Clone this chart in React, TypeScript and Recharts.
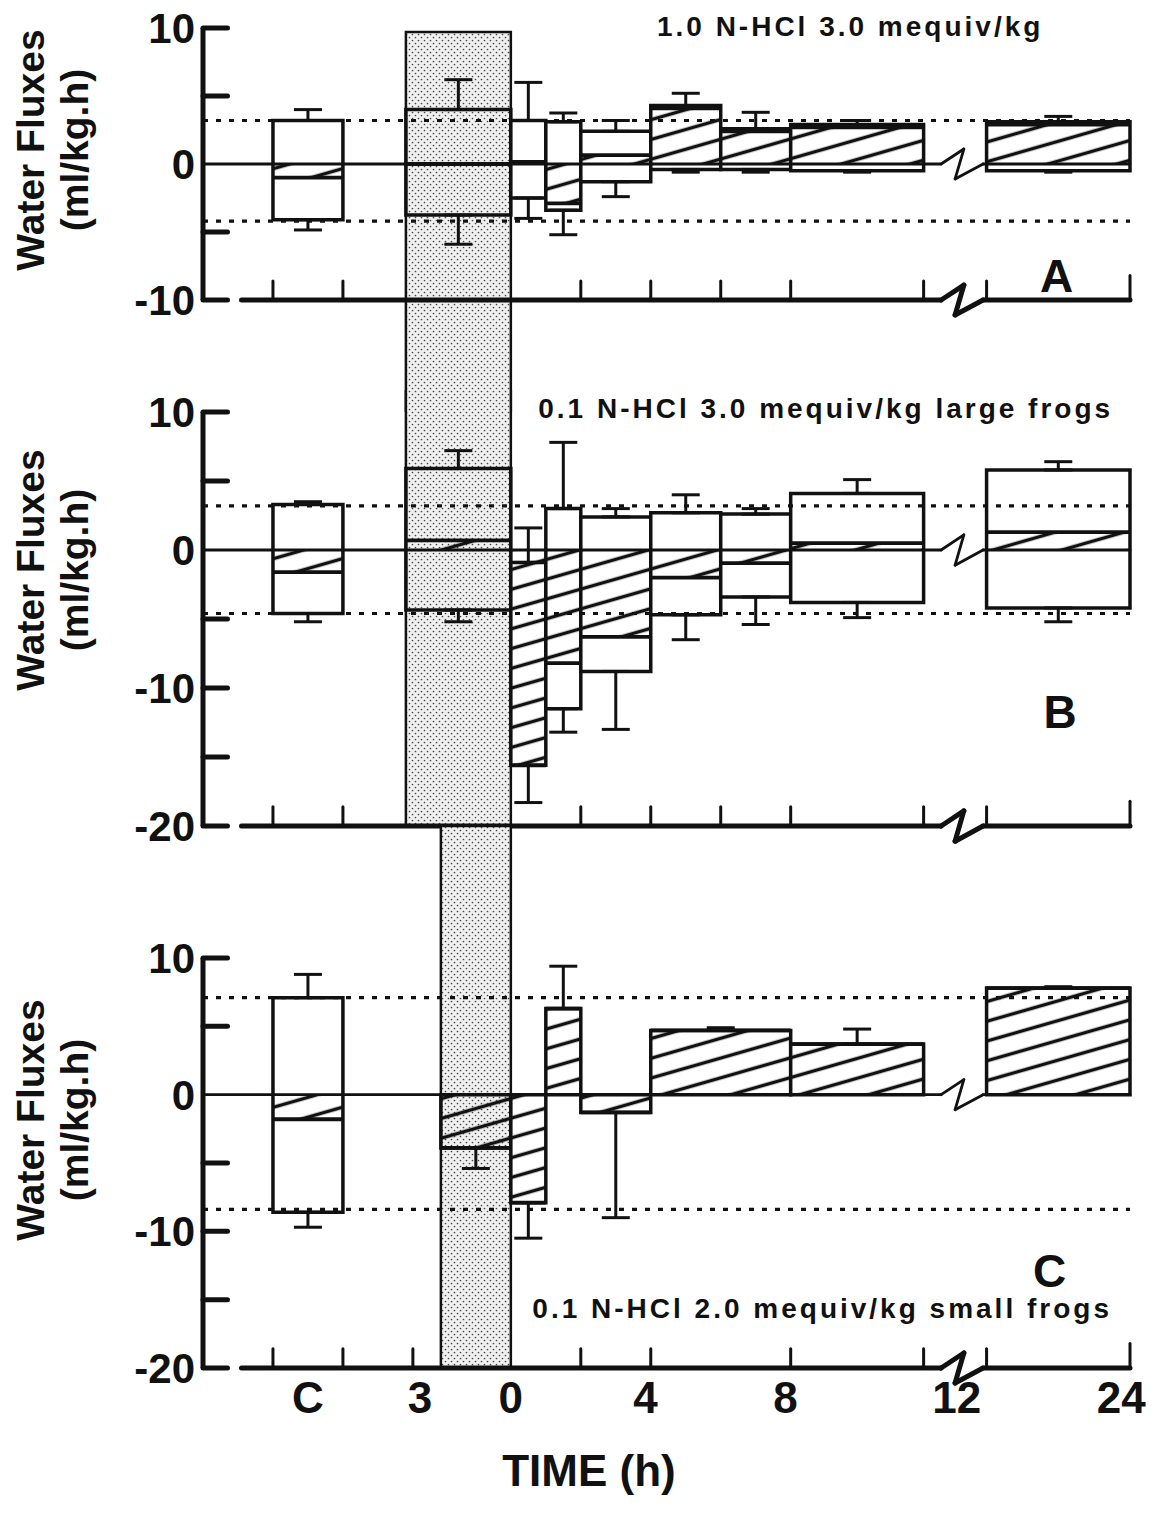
import React from 'react';
import {
  ComposedChart, XAxis, YAxis, Scatter, ErrorBar,
  ReferenceArea, ReferenceLine, ReferenceDot,
} from 'recharts';

const FONT = '"Liberation Sans", Arial, Helvetica, sans-serif';
const INK = '#111';

// x = hours after the end of the HCl infusion; the 24 h period is drawn after the axis break
const periodStartAB = [-6.8, -3, 0, 1, 2, 4, 6, 8, 13.6];
const periodEndAB = [-4.8, 0, 1, 2, 4, 6, 8, 11.8, 17.7];
const periodStartC = [-6.8, -2, 0, 1, 2, 4, 8, 13.6];
const periodEndC = [-4.8, 0, 1, 2, 4, 8, 11.8, 17.7];

// A: 1.0 N-HCl 3.0 mequiv/kg
const influxA = [3.2, 4.0, 3.2, 3.1, 2.4, 4.3, 2.6, 2.9, 3.1];
const effluxA = [-4.1, -3.75, -2.5, -3.4, -1.3, -0.4, -0.4, -0.5, -0.5];
const netA = [-1.0, 0, 0.15, -2.9, 0.65, 4.1, 2.4, 2.7, 2.9];
const errUpA = [4.0, 6.2, 6.0, 3.75, 3.2, 5.2, 3.8, 3.2, 3.5];
const errDownA = [-4.85, -5.9, -4.0, -5.2, -2.4, -0.6, -0.6, -0.6, -0.6];
const controlA = [3.2, -4.2];

// B: 0.1 N-HCl 3.0 mequiv/kg large frogs
const influxB = [3.3, 5.9, -0.9, 3.0, 2.4, 2.7, 2.6, 4.1, 5.8];
const effluxB = [-4.6, -4.35, -15.6, -11.5, -8.8, -4.7, -3.4, -3.8, -4.2];
const netB = [-1.6, 0.7, -15.6, -8.2, -6.3, -2.0, -0.95, 0.5, 1.3];
const errUpB = [3.5, 7.2, 1.6, 7.8, 3.0, 4.0, 3.0, 5.1, 6.4];
const errDownB = [-5.2, -5.2, -18.3, -13.2, -13.0, -6.5, -5.4, -4.9, -5.2];
const controlB = [3.2, -4.6];

// C: 0.1 N-HCl 2.0 mequiv/kg small frogs
const influxC = [7.1, 0, 0, 6.3, 0, 4.7, 3.7, 7.8];
const effluxC = [-8.6, -3.9, -7.9, 0, -1.3, 0, 0, 0];
const netC = [-1.8, -3.9, -7.9, 6.3, -1.3, 4.7, 3.7, 7.8];
const errUpC = [8.8, null, null, 9.4, null, 4.9, 4.8, 7.9];
const errDownC = [-9.7, -5.4, -10.5, null, -9.0, null, null, null];
const controlC = [7.1, -8.4];

const xTicksAB = [-6.8, -4.8, 2, 4, 6, 8, 11.8, 13.6, 17.7];
const xTicksC = [-6.8, -4.8, -2.8, 2, 4, 8, 11.8, 13.6, 17.7];
const timeLabels = ['C', '3', '0', '4', '8', '12', '24'];
const timeLabelPos = [-5.8, -2.6, 0, 3.85, 7.85, 12.75, 17.45];

const yLabelsA = [10, 0, -10];
const yMinorA = [10, 5, -5, -10];
const yLabelsBC = [10, 0, -10, -20];
const yMinorBC = [10, 5, -5, -10, -15, -20];

const X_MIN = -8.8;
const X_MAX = 17.9;
const AXIS_START = -7.7;
const AXIS_END = 17.7;
const BREAK_FROM = 12.3;
const BREAK_TO = 13.5;

type Pt = { x: number; y: number };
type Seg = [Pt, Pt];

const brokenLine = (y: number, x0: number, h: number): Seg[] => [
  [{ x: x0, y }, { x: BREAK_FROM, y }],
  [{ x: BREAK_FROM, y }, { x: 12.95, y: y + h }],
  [{ x: 12.95, y: y + h }, { x: 12.7, y: y - h }],
  [{ x: 12.7, y: y - h }, { x: BREAK_TO, y }],
  [{ x: BREAK_TO, y }, { x: AXIS_END, y }],
];

type PanelProps = {
  id: string;
  top: number;
  height: number;
  mTop: number;
  mBottom: number;
  domain: [number, number];
  start: number[];
  end: number[];
  influx: number[];
  efflux: number[];
  net: number[];
  errUp: (number | null)[];
  errDown: (number | null)[];
  control: number[];
  yLabels: number[];
  yMinor: number[];
  xTicks: number[];
  shade: [number, number, number, number];
  title: string;
  titleAt: [number, number];
  letter: string;
  letterAt: [number, number];
  titleShift: number;
  timeAxis?: boolean;
};

const yTitle = (shift: number) => (props: any) => {
  const vb = props.viewBox || { y: 0, height: 0 };
  const cy = vb.y + vb.height / 2 + shift;
  const st = { fontFamily: FONT, fontWeight: 700, fontSize: 39, fill: INK };
  return (
    <g>
      <text x={30} y={cy} transform={`rotate(-90 30 ${cy})`} textAnchor="middle" dominantBaseline="central" style={st}>
        Water Fluxes
      </text>
      <text x={74} y={cy} transform={`rotate(-90 74 ${cy})`} textAnchor="middle" dominantBaseline="central" style={st}>
        (ml/kg.h)
      </text>
    </g>
  );
};

const timeTitle = (props: any) => {
  const vb = props.viewBox || { y: 0 };
  return (
    <text x={589} y={vb.y + 118} textAnchor="middle"
      style={{ fontFamily: FONT, fontWeight: 700, fontSize: 44, fill: INK }}>
      TIME (h)
    </text>
  );
};

function Panel(p: PanelProps) {
  const yMin = p.domain[0];
  const hatch = `hatch-${p.id}`;
  const stip = `stip-${p.id}`;

  const errPts: { x: number; y: number; e: number[] }[] = [];
  p.start.forEach((s, i) => {
    const x = (s + p.end[i]) / 2;
    const up = p.errUp[i];
    const down = p.errDown[i];
    if (up != null) errPts.push({ x, y: p.influx[i], e: [0, up - p.influx[i]] });
    if (down != null) errPts.push({ x, y: p.efflux[i], e: [p.efflux[i] - down, 0] });
  });

  const segs: { seg: Seg; w: number }[] = [];
  brokenLine(0, X_MIN, 1.1).forEach((seg) => segs.push({ seg, w: 2.8 }));
  brokenLine(yMin, AXIS_START, 1.1).forEach((seg) => segs.push({ seg, w: 5 }));
  p.xTicks.forEach((t, i) =>
    segs.push({ seg: [{ x: t, y: yMin }, { x: t, y: yMin + (i === p.xTicks.length - 1 ? 1.8 : 1.4) }], w: 3 })
  );
  p.yMinor.forEach((t) => segs.push({ seg: [{ x: X_MIN, y: t }, { x: X_MIN + 0.7, y: t }], w: 5 }));

  const txt = { fontFamily: FONT, fontWeight: 700, fill: INK };

  return (
    <div style={{ position: 'absolute', left: 0, top: p.top }}>
      <ComposedChart width={1159} height={p.height}
        margin={{ top: p.mTop, right: 22, bottom: p.mBottom, left: 0 }}>
        <defs>
          <pattern id={stip} patternUnits="userSpaceOnUse" width={6} height={6}>
            <rect width={6} height={6} fill="#f0f0f0" />
            <circle cx={1.5} cy={1.5} r={0.85} fill="#444" />
            <circle cx={4.5} cy={4.5} r={0.85} fill="#444" />
          </pattern>
          <pattern id={hatch} patternUnits="userSpaceOnUse" width={40} height={19}
            patternTransform="rotate(-16)">
            <line x1={0} y1={9.5} x2={40} y2={9.5} stroke={INK} strokeWidth={3.5} />
          </pattern>
        </defs>
        <XAxis type="number" dataKey="x" domain={[X_MIN, X_MAX]} allowDataOverflow
          hide={!p.timeAxis} ticks={timeLabelPos} interval={0}
          tickFormatter={(_v: number, i: number) => timeLabels[i]}
          tickLine={false} axisLine={false} tickSize={6} tickMargin={8}
          height={p.timeAxis ? 125 : 0}
          tick={{ ...txt, fontSize: 44 }}
          label={p.timeAxis ? { content: timeTitle } : undefined} />
        <YAxis type="number" domain={p.domain} allowDataOverflow ticks={p.yLabels} interval={0}
          width={203} tickLine={false} tickSize={0} tickMargin={8}
          axisLine={{ stroke: INK, strokeWidth: 5 }}
          tick={{ ...txt, fontSize: 42 }}
          label={{ content: yTitle(p.titleShift) }} />

        <ReferenceArea x1={p.shade[0]} x2={p.shade[1]} y1={p.shade[2]} y2={p.shade[3]}
          fill={`url(#${stip})`} fillOpacity={1} stroke={INK} strokeWidth={2.5} ifOverflow="visible" />

        {p.start.map((s, i) => (
          <ReferenceArea key={`box${i}`} x1={s} x2={p.end[i]} y1={p.efflux[i]} y2={p.influx[i]}
            fill={i === 1 ? 'none' : '#fff'} fillOpacity={1} stroke={INK} strokeWidth={3.5} ifOverflow="visible" />
        ))}
        {p.start.map((s, i) =>
          p.net[i] === 0 ? null : (
            <ReferenceArea key={`net${i}`} x1={s} x2={p.end[i]}
              y1={Math.min(0, p.net[i])} y2={Math.max(0, p.net[i])}
              fill={`url(#${hatch})`} fillOpacity={1} stroke="none" ifOverflow="visible" />
          )
        )}

        {p.control.map((c, i) => (
          <ReferenceLine key={`ctl${i}`} segment={[{ x: X_MIN, y: c }, { x: AXIS_END, y: c }]}
            stroke={INK} strokeWidth={3.2} strokeDasharray="5 8" ifOverflow="visible" />
        ))}
        {p.start.map((s, i) => (
          <ReferenceLine key={`nl${i}`} segment={[{ x: s, y: p.net[i] }, { x: p.end[i], y: p.net[i] }]}
            stroke={INK} strokeWidth={3.8} ifOverflow="visible" />
        ))}
        {segs.map((s, i) => (
          <ReferenceLine key={`ax${i}`} segment={s.seg} stroke={INK} strokeWidth={s.w}
            strokeLinecap="round" ifOverflow="visible" />
        ))}

        <Scatter data={errPts} dataKey="y" isAnimationActive={false} shape={() => <g />}>
          <ErrorBar dataKey="e" direction="y" width={14} stroke={INK} strokeWidth={3} isAnimationActive={false} />
        </Scatter>

        <ReferenceDot x={p.titleAt[0]} y={p.titleAt[1]} r={0} stroke="none" fill="none" ifOverflow="visible"
          label={{ value: p.title, position: 'center', ...txt, fontSize: 28, letterSpacing: 3 }} />
        <ReferenceDot x={p.letterAt[0]} y={p.letterAt[1]} r={0} stroke="none" fill="none" ifOverflow="visible"
          label={{ value: p.letter, position: 'center', ...txt, fontSize: 46 }} />
      </ComposedChart>
    </div>
  );
}

export default function App() {
  return (
    <div style={{ position: 'relative', width: 1159, height: 1524, background: '#fff' }}>
      <style>{'body{margin:0}'}</style>
      <Panel id="a" top={0} height={412} mTop={28} mBottom={112} domain={[-10, 10]}
        start={periodStartAB} end={periodEndAB}
        influx={influxA} efflux={effluxA} net={netA} errUp={errUpA} errDown={errDownA}
        control={controlA} yLabels={yLabelsA} yMinor={yMinorA} xTicks={xTicksAB}
        shade={[-3, 0, -19, 9.7]}
        title="1.0 N-HCl 3.0 mequiv/kg" titleAt={[9.7, 10.15]}
        letter="A" letterAt={[15.6, -8.2]} titleShift={-14} />
      <Panel id="b" top={390} height={464} mTop={22} mBottom={28} domain={[-20, 10]}
        start={periodStartAB} end={periodEndAB}
        influx={influxB} efflux={effluxB} net={netB} errUp={errUpB} errDown={errDownB}
        control={controlB} yLabels={yLabelsBC} yMinor={yMinorBC} xTicks={xTicksAB}
        shade={[-3, 0, -20, 12]}
        title="0.1 N-HCl 3.0 mequiv/kg large frogs" titleAt={[9.0, 10.3]}
        letter="B" letterAt={[15.7, -11.7]} titleShift={-49} />
      <Panel id="c" top={820} height={704} mTop={138} mBottom={31} domain={[-20, 10]}
        start={periodStartC} end={periodEndC}
        influx={influxC} efflux={effluxC} net={netC} errUp={errUpC} errDown={errDownC}
        control={controlC} yLabels={yLabelsBC} yMinor={yMinorBC} xTicks={xTicksC}
        shade={[-2, 0, -20, 19.65]}
        title="0.1 N-HCl 2.0 mequiv/kg small frogs" titleAt={[8.9, -15.65]}
        letter="C" letterAt={[15.4, -12.9]} titleShift={-43} timeAxis />
    </div>
  );
}
